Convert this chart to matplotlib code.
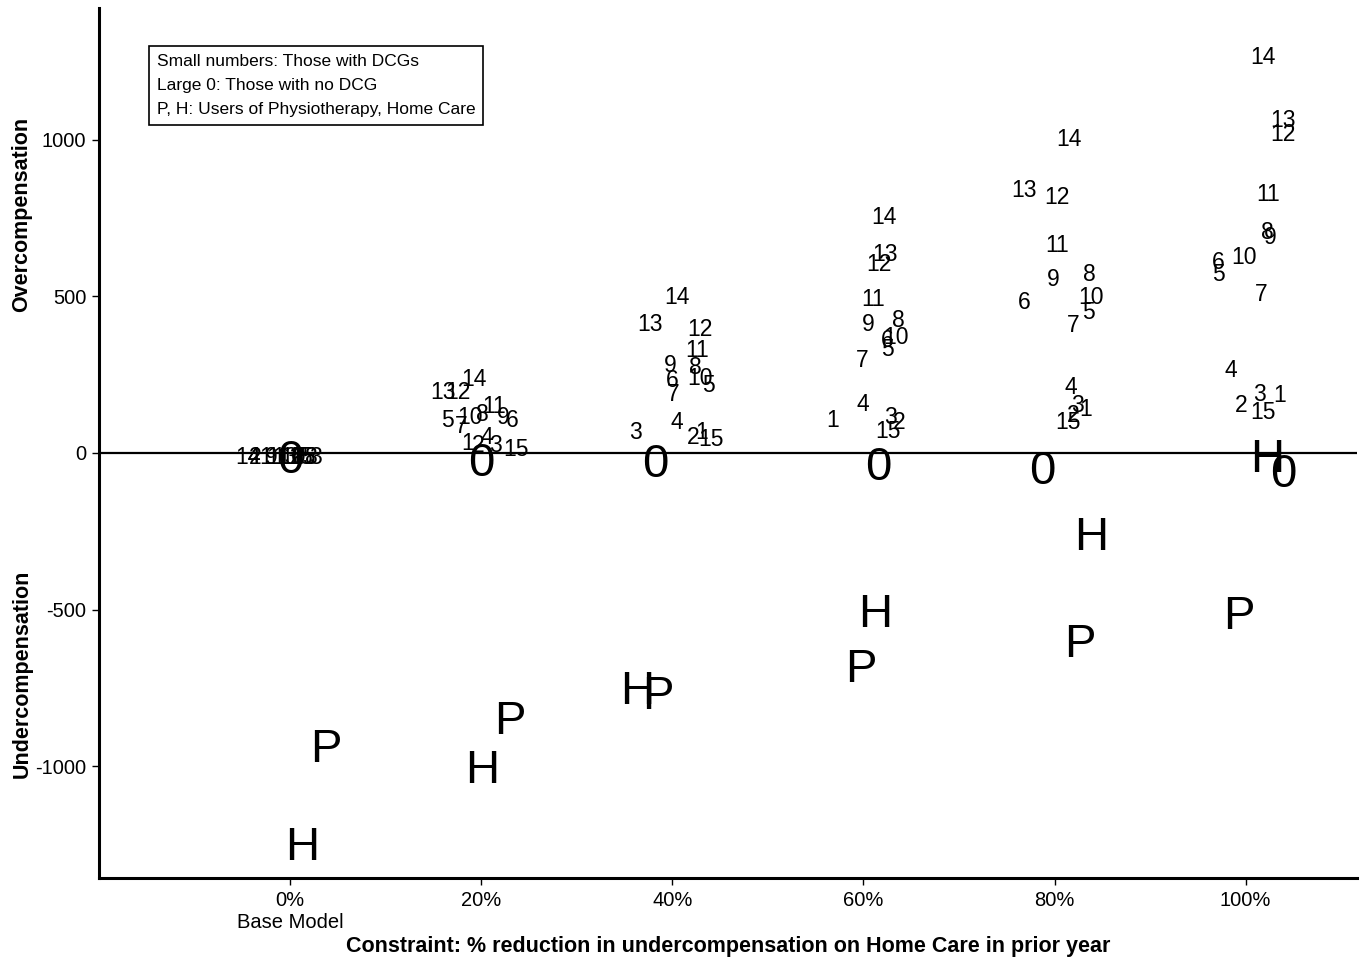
import numpy as np
import matplotlib
matplotlib.use("Agg")
import matplotlib.pyplot as plt

plt.rcParams['font.family'] = ['Liberation Sans', 'DejaVu Sans']

# constraint levels (% reduction in undercompensation on Home Care)
levels = [0, 20, 40, 60, 80, 100]
level_labels = ['0%\nBase Model', '20%', '40%', '60%', '80%', '100%']

# DCG groups 1..15 : (x position, over/undercompensation) per level
groups = list(range(1, 16))
x0 = [-2.6, -3.6, 2.7, -3.8, 1.6, 0.7, 1.0, 2.2, -2.0, 0.3, -1.3, 0.0, -0.5, -4.4, 1.3]
y0 = [-5, -5, -6, -5, -6, -5, -6, -5, -5, -6, -5, -6, -5, -5, -6]
x20 = [18.6, 19.7, 21.5, 20.6, 16.5, 23.2, 17.9, 20.1, 22.3, 18.8, 21.3, 17.6, 16.0, 19.2, 23.6]
y20 = [38, 32, 32, 58, 112, 112, 93, 131, 121, 121, 157, 201, 201, 243, 19]
x40 = [43.1, 42.2, 36.1, 40.5, 43.8, 40.0, 40.1, 42.4, 39.8, 42.9, 42.6, 42.9, 37.7, 40.5, 44.0]
y40 = [73, 58, 73, 105, 224, 240, 195, 281, 288, 246, 335, 403, 418, 505, 51]
x60 = [56.8, 63.7, 62.8, 59.9, 62.5, 62.5, 59.9, 63.7, 60.5, 63.4, 61.0, 61.6, 62.3, 62.1, 62.6]
y60 = [112, 105, 121, 163, 339, 367, 304, 431, 418, 377, 498, 610, 642, 760, 77]
x80 = [83.2, 81.9, 82.4, 81.7, 83.5, 76.8, 81.9, 83.6, 79.9, 83.8, 80.3, 80.3, 76.8, 81.5, 81.4]
y80 = [147, 128, 160, 217, 457, 489, 415, 578, 562, 505, 671, 824, 847, 1010, 105]
x100 = [103.5, 99.5, 101.4, 98.4, 97.1, 97.1, 101.6, 102.3, 102.6, 99.8, 102.3, 103.9, 103.9, 101.8, 101.8]
y100 = [192, 160, 195, 272, 578, 617, 514, 712, 696, 633, 834, 1026, 1070, 1272, 137]

# those with no DCG (large 0)
none_x = [0, 20, 38.2, 61.6, 78.7, 103.9]
none_y = [-10, -20, -22, -32, -45, -54]
# users of physiotherapy (P) and home care (H)
phys_x = [3.7, 23.0, 38.5, 59.7, 82.7, 99.3]
phys_y = [-933, -843, -764, -677, -597, -508]
home_x = [1.3, 20.1, 36.3, 61.2, 83.8, 102.2]
home_y = [-1246, -1000, -748, -502, -256, -6]

fig = plt.figure(figsize=(13.65, 9.64), dpi=100)
ax = fig.add_axes([0.0725, 0.089, 0.922, 0.903])

for xs, ys in [(x0, y0), (x20, y20), (x40, y40), (x60, y60), (x80, y80), (x100, y100)]:
    for g, xv, yv in zip(groups, xs, ys):
        ax.text(xv, yv, str(g), fontsize=16.5, ha='center', va='center_baseline')

for xv, yv in zip(none_x, none_y):
    ax.text(xv, yv, '0', fontsize=34, ha='center', va='center_baseline')
for xv, yv in zip(phys_x, phys_y):
    ax.text(xv, yv, 'P', fontsize=34, ha='center', va='center_baseline')
for xv, yv in zip(home_x, home_y):
    ax.text(xv, yv, 'H', fontsize=34, ha='center', va='center_baseline')

ax.axhline(0, color='black', lw=1.6, zorder=0)

ax.set_xlim(-20, 111.7)
ax.set_ylim(-1358, 1422)
ax.set_xticks(levels)
ax.set_xticklabels(level_labels, fontsize=14.5, linespacing=1.2)
ax.set_yticks([-1000, -500, 0, 500, 1000])
ax.set_yticklabels(['-1000', '-500', '0', '500', '1000'], fontsize=14.5)
ax.tick_params(direction='out', length=5, width=1, pad=4)

for s in ['top', 'right']:
    ax.spines[s].set_visible(False)
for s in ['left', 'bottom']:
    ax.spines[s].set_linewidth(2.2)

ax.set_xlabel('Constraint: % reduction in undercompensation on Home Care in prior year',
              fontsize=15.5, fontweight='bold', labelpad=3)
fig.text(0.016, 1 - 214 / 964, 'Overcompensation', rotation=90, fontsize=15.5,
         fontweight='bold', ha='center', va='center')
fig.text(0.016, 1 - 674 / 964, 'Undercompensation', rotation=90, fontsize=15.5,
         fontweight='bold', ha='center', va='center')

ax.text(0.0461, 0.947,
        'Small numbers: Those with DCGs\nLarge 0: Those with no DCG\nP, H: Users of Physiotherapy, Home Care',
        transform=ax.transAxes, fontsize=12.5, ha='left', va='top', linespacing=1.75,
        bbox=dict(boxstyle='square,pad=0.45', facecolor='white', edgecolor='black', lw=1.2))

fig.savefig('out.png', dpi=100)
